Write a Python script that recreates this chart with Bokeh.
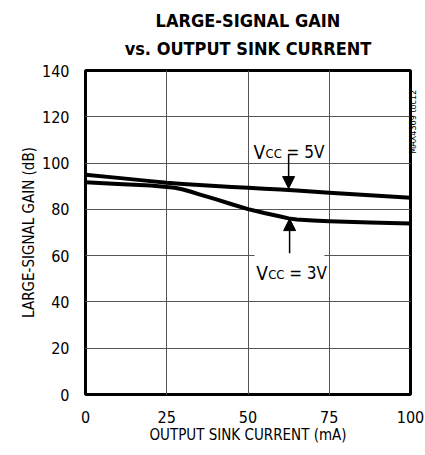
import math
from bokeh.plotting import figure
from bokeh.models import Arrow, NormalHead, Label, Range1d, BoxAnnotation, Title, LinearAxis
from bokeh.embed import file_html
from bokeh.resources import INLINE

# ---- data ----
current_5v = [0, 10, 20, 25, 30, 35, 40, 45, 50, 55, 60, 62.5, 65, 75, 87.5, 100]
gain_vcc5 = [95.0, 93.6, 92.2, 91.5, 91.0, 90.5, 90.1, 89.7, 89.3, 88.9, 88.6, 88.4, 88.2, 87.2, 86.1, 85.0]
current_3v = [0, 10, 20, 25, 27.5, 30, 32.5, 35, 40, 45, 50, 55, 60, 62.5, 65, 70, 75, 87.5, 100]
gain_vcc3 = [91.7, 91.0, 90.3, 89.7, 89.3, 88.6, 87.6, 86.5, 84.4, 82.2, 80.1, 78.4, 76.9, 76.1, 75.6, 75.2, 74.9, 74.3, 73.9]
x_ticks = [0, 25, 50, 75, 100]
y_ticks = [0, 20, 40, 60, 80, 100, 120, 140]
title_lines = ["LARGE-SIGNAL GAIN", "vs. OUTPUT SINK CURRENT"]
x_label = "OUTPUT SINK CURRENT (mA)"
y_label = "LARGE-SIGNAL GAIN (dB)"
series_names = ["5V", "3V"]
doc_id = "MAX4369 toc12"
doc_id_at = 104  # where the id starts along the right edge (dB)

FONT = "'DejaVu Sans Condensed', 'Liberation Sans', sans-serif"

p = figure(frame_width=325, frame_height=324, x_range=Range1d(0, 100), y_range=Range1d(0, 140),
           output_backend="svg", toolbar_location=None, title=None,
           min_border_left=0, min_border_right=0, min_border_top=0, min_border_bottom=0)

p.background_fill_color = "white"
p.border_fill_color = "white"
p.outline_line_color = "black"
p.outline_line_width = 3

# two centred title lines (first added sits closest to the frame) + a spacer on top
p.add_layout(Title(text=title_lines[1], align="center", text_font=FONT, text_font_size="18px",
                   text_font_style="bold", text_color="black", standoff=23), "above")
p.add_layout(Title(text=title_lines[0], align="center", text_font=FONT, text_font_size="18px",
                   text_font_style="bold", text_color="black", standoff=-12), "above")
p.add_layout(Title(text=" ", text_font_size="5px", standoff=5), "above")

for ax in (p.xaxis[0], p.yaxis[0]):
    ax.axis_line_color = None
    ax.major_tick_line_color = None
    ax.minor_tick_line_color = None
    ax.major_tick_out = 0
    ax.major_tick_in = 0
    ax.minor_tick_out = 0
    ax.minor_tick_in = 0
    ax.major_label_text_font = FONT
    ax.major_label_text_font_size = "16px"
    ax.major_label_text_color = "black"
    ax.axis_label_text_font = FONT
    ax.axis_label_text_font_size = "15px"
    ax.axis_label_text_font_style = "normal"
    ax.axis_label_text_color = "black"

p.xaxis.ticker = x_ticks
p.yaxis.ticker = y_ticks
p.xaxis.axis_label = x_label
p.yaxis.axis_label = y_label
p.xaxis.major_label_standoff = 16
p.yaxis.major_label_standoff = 16
p.xaxis.axis_label_standoff = 0
p.yaxis.axis_label_standoff = 1

# spacer left of the y-axis title
p.add_layout(Title(text=" ", text_font_size="10px", standoff=4), "left")

# document id on the right edge, reading bottom to top
rax = LinearAxis(ticker=[doc_id_at], major_label_overrides={doc_id_at: doc_id},
                 major_label_orientation=math.pi / 2, major_label_standoff=3,
                 axis_line_color=None, major_tick_line_color=None, minor_tick_line_color=None,
                 major_tick_out=0, major_tick_in=0, minor_tick_out=0, minor_tick_in=0,
                 major_label_text_font=FONT, major_label_text_font_size="9px",
                 major_label_text_color="black")
p.add_layout(rax, "right")

p.xgrid.ticker = x_ticks
p.ygrid.ticker = y_ticks
for g in (p.xgrid[0], p.ygrid[0]):
    g.grid_line_color = "#555555"
    g.grid_line_width = 1

p.line(current_5v, gain_vcc5, line_color="black", line_width=4, line_join="round")
p.line(current_3v, gain_vcc3, line_color="black", line_width=4, line_join="round")

# white box behind the 3V label
p.add_layout(BoxAnnotation(left=52.0, right=73.5, bottom=50.5, top=61.2,
                           fill_color="white", fill_alpha=1.0, line_color=None))

# arrows
p.add_layout(Arrow(end=NormalHead(size=12, fill_color="black", line_color="black"),
                   x_start=62.5, y_start=103.7, x_end=62.5, y_end=89.0,
                   line_color="black", line_width=1.5))
p.add_layout(Arrow(end=NormalHead(size=12, fill_color="black", line_color="black"),
                   x_start=62.8, y_start=61.0, x_end=62.8, y_end=76.0,
                   line_color="black", line_width=1.5))

def vcc_label(x, y, name):
    common = dict(x=x, y=y, text_font=FONT, text_color="black",
                  text_baseline="alphabetic", text_align="left")
    p.add_layout(Label(text="V", text_font_size="19px", **common))
    p.add_layout(Label(text="CC", text_font_size="13px", x_offset=12, y_offset=-1.5, **common))
    p.add_layout(Label(text="= " + name, text_font_size="17px", x_offset=33, **common))

vcc_label(51.7, 104.6, series_names[0])
vcc_label(52.5, 52.7, series_names[1])

open("out.html", "w").write(file_html(p, INLINE))
